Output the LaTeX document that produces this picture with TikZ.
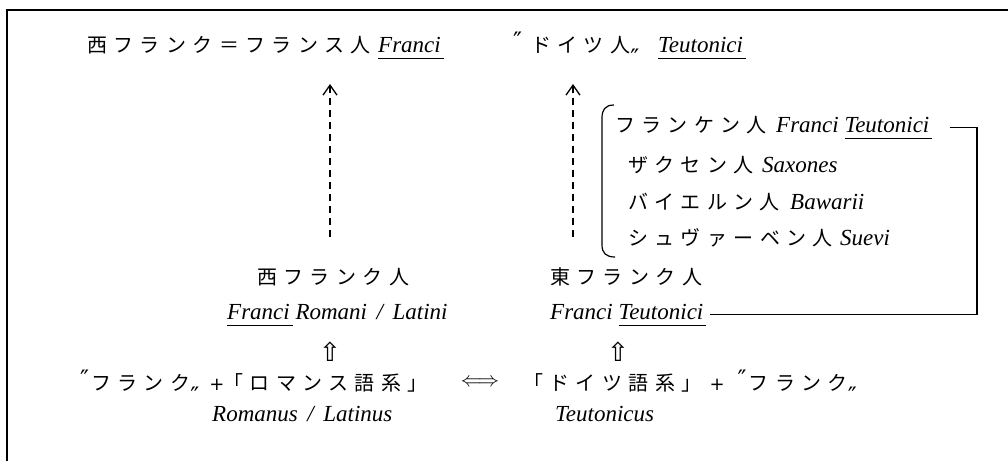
\documentclass[tikz,border=0pt]{standalone}
\usepackage{fontspec}
\usetikzlibrary{arrows.meta,calc}
\newfontfamily\jp[LetterSpace=32]{Noto Sans CJK JP}
\newfontfamily\la{Liberation Serif}
\newfontfamily\sym{DejaVu Sans}
\newcommand\J[1]{{\jp\fontsize{20}{24}\selectfont #1}}
\newcommand\latn[1]{{\la\itshape\fontsize{23}{27}\selectfont #1}}
\newcommand\myul[1]{\setbox0\hbox{#1}\rlap{\rule[-7pt]{\dimexpr\wd0+3pt\relax}{0.9pt}}\box0\relax}
\newcommand\oq{\raisebox{3pt}{\sym\fontsize{24}{26}\selectfont ″}\hspace{2pt}}
\newcommand\cq{\raisebox{-14pt}{\sym\fontsize{24}{26}\selectfont ″}}
\newcommand\plusL{\hspace{10pt}{\sym\fontsize{18}{22}\selectfont +}\hspace{-1pt}}
\newcommand\plusR{\hspace{8pt}{\sym\fontsize{18}{22}\selectfont +}\hspace{13pt}}
\tikzset{
  txt/.style={inner sep=0pt, anchor=base west},
  dasharrow/.style={line width=1.2pt, dash pattern=on 7pt off 5pt, -{Straight Barb[length=10pt,width=14pt,line width=1.3pt]}},
  link/.style={line width=1.1pt},
  upsym/.style={inner sep=0pt, font=\sym\fontsize{26}{28}\selectfont},
}
\begin{document}
\begin{tikzpicture}[x=1pt,y=-1pt]
\useasboundingbox (0,0) rectangle (1008,461);
\draw[line width=1.3pt] (7,461) -- (7,10) -- (1008,10);
% top line
\node[txt] (j1) at (87,52) {\J{西フランク＝フランス人}};
\node[txt] (l1) at (378,52) {\latn{\myul{Franci}}};
\node[txt] (j2) at (513,52) {\J{\oq\hspace{7pt}ドイツ人\cq}};
\node[txt] (l2) at (658,52) {\latn{\myul{Teutonici}}};
% bracket list
\node[txt] (j3) at (615,132) {\J{フランケン人}};
\node[txt] (l3) at (776,132) {\latn{Franci \myul{Teutonici}}};
\node[txt] (j4) at (628,172) {\J{ザクセン人}};
\node[txt] (l4) at (762,172) {\latn{Saxones}};
\node[txt] (j5) at (628,209) {\J{バイエルン人}};
\node[txt] (l5) at (790,209) {\latn{Bawarii}};
\node[txt] (j6) at (628,245) {\J{シュヴァーベン人}};
\node[txt] (l6) at (840,245) {\latn{Suevi}};
% middle
\node[txt] (j7) at (257,284) {\J{西フランク人}};
\node[txt] (l7) at (227,319) {\latn{\myul{Franci} Romani \,/\, Latini}};
\node[txt] (j8) at (550,284) {\J{東フランク人}};
\node[txt] (l8) at (550,319) {\latn{Franci \myul{Teutonici}}};
\node[upsym] (u1) at (330,352) {⇧};
\node[upsym] (u2) at (618,352) {⇧};
% bottom
\node[txt] (j9) at (80,390) {\J{\oq フランク\cq\plusL「ロマンス語系」}};
\node[inner sep=0pt] (arr) at (480,383) {\fontsize{21}{24}\selectfont$\Longleftrightarrow$};
\node[txt] (j10) at (523,390) {\J{「ドイツ語系」\plusR\oq フランク\cq}};
\node[txt] (l9) at (212,421) {\latn{Romanus \,/\, Latinus}};
\node[txt] (l10) at (555,421) {\latn{Teutonicus}};
% dashed arrows
\coordinate (a1s) at (330,237);
\coordinate (a1e) at (330,84);
\coordinate (a2s) at (573,237);
\coordinate (a2e) at (573,84);
\draw[dasharrow] (a1s) -- (a1e);
\draw[dasharrow] (a2s) -- (a2e);
% bracket
\draw[line width=1.2pt] (614,105) .. controls (605,105) and (602,110) .. (602,118) -- (602,245) .. controls (602,253) and (606,257) .. (615,257);
% connector
\coordinate (cr) at (977,200);
\draw[link] ($(l3.east)+(20pt,0)$) -| (cr) |- ($(l8.east)+(6pt,0)$);
\end{tikzpicture}
\end{document}
